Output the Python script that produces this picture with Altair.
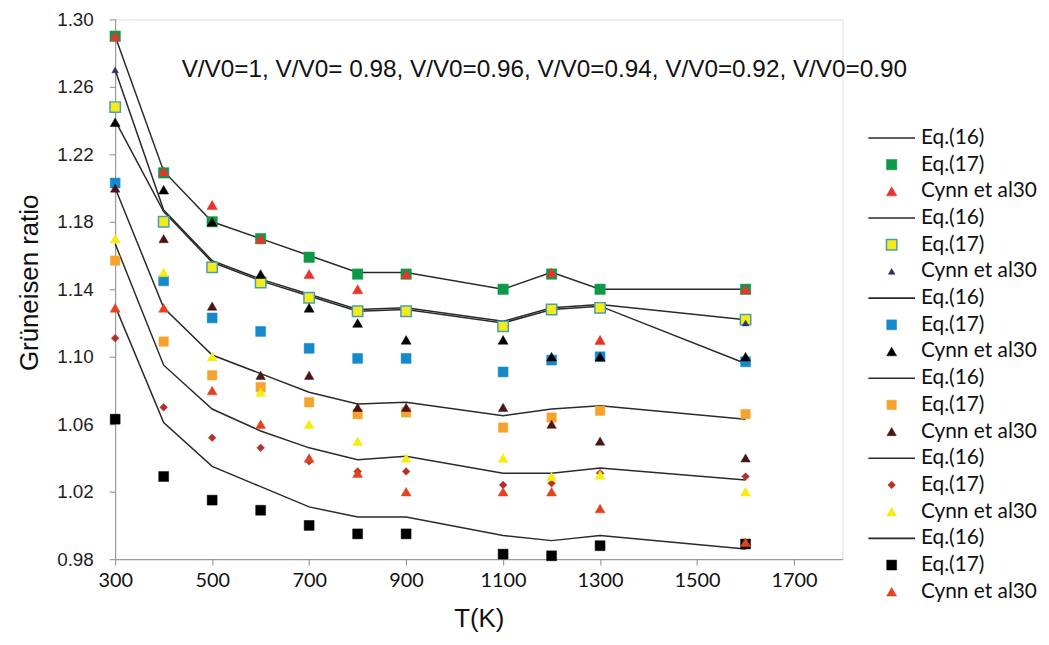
import altair as alt
import pandas as pd

# ---------------- data ----------------
T = [300, 400, 500, 600, 700, 800, 900, 1100, 1200, 1300, 1600]

# Eq.(16) curves, V/V0 = 1, 0.98, 0.96, 0.94, 0.92, 0.90
EQ16_1 = [1.290, 1.210, 1.180, 1.170, 1.160, 1.150, 1.150, 1.140, 1.150, 1.140, 1.140]
EQ16_2 = [1.270, 1.187, 1.157, 1.146, 1.137, 1.128, 1.129, 1.121, 1.129, 1.131, 1.122]
EQ16_3 = [1.240, 1.186, 1.156, 1.145, 1.136, 1.127, 1.128, 1.120, 1.128, 1.130, 1.096]
EQ16_4 = [1.200, 1.129, 1.101, 1.090, 1.079, 1.072, 1.073, 1.065, 1.069, 1.071, 1.063]
EQ16_5 = [1.167, 1.095, 1.069, 1.056, 1.046, 1.039, 1.041, 1.031, 1.031, 1.034, 1.027]
EQ16_6 = [1.130, 1.061, 1.035, 1.023, 1.011, 1.005, 1.005, 0.994, 0.991, 0.994, 0.986]

# Eq.(17) points
EQ17_1 = [1.290, 1.209, 1.180, 1.170, 1.159, 1.149, 1.149, 1.140, 1.149, 1.140, 1.140]
EQ17_2 = [1.248, 1.180, 1.153, 1.144, 1.135, 1.127, 1.127, 1.118, 1.128, 1.129, 1.122]
EQ17_3 = [1.203, 1.145, 1.123, 1.115, 1.105, 1.099, 1.099, 1.091, 1.098, 1.100, 1.097]
EQ17_4 = [1.157, 1.109, 1.089, 1.082, 1.073, 1.066, 1.067, 1.058, 1.064, 1.068, 1.066]
EQ17_5 = [1.111, 1.070, 1.052, 1.046, 1.038, 1.032, 1.032, 1.024, 1.025, 1.031, 1.029]
EQ17_6 = [1.063, 1.029, 1.015, 1.009, 1.000, 0.995, 0.995, 0.983, 0.982, 0.988, 0.989]

# Cynn et al30 points
CYNN_1 = [1.290, 1.210, 1.190, 1.170, 1.149, 1.140, 1.149, None, 1.150, 1.110, 1.140]
CYNN_2 = [1.270, None, None, None, None, None, None, None, None, None, 1.120]
CYNN_3 = [1.239, 1.199, 1.180, 1.149, 1.129, 1.120, 1.110, 1.110, 1.100, 1.100, 1.100]
CYNN_4 = [1.200, 1.170, 1.130, 1.089, 1.089, 1.070, 1.070, 1.070, 1.060, 1.050, 1.040]
CYNN_5 = [1.170, 1.150, 1.100, 1.079, 1.060, 1.050, 1.040, 1.040, 1.029, 1.030, 1.020]
CYNN_6 = [1.129, 1.129, 1.080, 1.060, 1.040, 1.031, 1.020, 1.020, 1.020, 1.010, 0.990]

X_TICKS = [300, 500, 700, 900, 1100, 1300, 1500, 1700]
Y_TICKS = [0.98, 1.02, 1.06, 1.10, 1.14, 1.18, 1.22, 1.26, 1.30]
ANNOTATION = "V/V0=1, V/V0= 0.98, V/V0=0.96, V/V0=0.94, V/V0=0.92, V/V0=0.90"

EQ16 = [EQ16_1, EQ16_2, EQ16_3, EQ16_4, EQ16_5, EQ16_6]
EQ17 = [EQ17_1, EQ17_2, EQ17_3, EQ17_4, EQ17_5, EQ17_6]
CYNN = [CYNN_1, CYNN_2, CYNN_3, CYNN_4, CYNN_5, CYNN_6]

# ---------------- styles ----------------
EQ17_FILL = ["#0B9A48", "#F4EC1A", "#1489CB", "#F7A22D", "#B2312B", "#000000"]
EQ17_STROKE = ["#0B9A48", "#4C9DB2", "#1489CB", "#F7A22D", "#B2312B", "#000000"]
EQ17_SHAPE = ["square", "square", "square", "square", "diamond", "square"]
EQ17_SIZE = [110, 110, 100, 90, 60, 100]
EQ17_SW = [0.5, 1.5, 0.5, 0.5, 0.5, 0.5]
CYNN_COLOR = ["#E8342C", "#2C2F6C", "#000000", "#4A1515", "#F6EC12", "#E2431F"]
CYNN_SIZE = [110, 45, 100, 90, 100, 100]
LINE_PATH = "M-4.7,0H4.7"

keys, fills, strokes, shapes, sizes, sws = [], [], [], [], [], []
for g in range(6):
    keys += [f"L{g+1}", f"E{g+1}", f"C{g+1}"]
    fills += ["transparent", EQ17_FILL[g], CYNN_COLOR[g]]
    strokes += ["#2a2a2a", EQ17_STROKE[g], CYNN_COLOR[g]]
    shapes += [LINE_PATH, EQ17_SHAPE[g], "triangle-up"]
    sizes += [100, EQ17_SIZE[g], CYNN_SIZE[g]]
    sws += [1.6, EQ17_SW[g], 0.5]

line_rows = []
for g in range(6):
    for t, v in zip(T, EQ16[g]):
        line_rows.append({"T": t, "val": v, "grp": f"L{g+1}"})
line_df = pd.DataFrame(line_rows)

pt_rows = []
for g in range(6):
    for t, v in zip(T, EQ17[g]):
        pt_rows.append({"T": t, "val": v, "key": f"E{g+1}"})
    for t, v in zip(T, CYNN[g]):
        if v is not None:
            pt_rows.append({"T": t, "val": v, "key": f"C{g+1}"})
pt_df = pd.DataFrame(pt_rows)

xscale = alt.Scale(domain=[300, 1800], nice=False, zero=False)
yscale = alt.Scale(domain=[0.98, 1.30], nice=False, zero=False)

x_axis = alt.Axis(
    values=X_TICKS, format="d", title="T(K)", grid=False, domainColor="#8c8c8c", tickColor="#8c8c8c",
    tickSize=6, labelFont="Lato", labelFontSize=20, labelColor="#111", labelPadding=6,
    labelFlush=False, labelOverlap=False,
    titleFont="Liberation Sans", titleFontSize=26, titleFontWeight="normal", titleColor="#111",
    titleY=60, titleBaseline="middle",
)
y_axis = alt.Axis(
    values=Y_TICKS, format=".2f", title="Grüneisen ratio", grid=False,
    domainColor="#8c8c8c", tickColor="#8c8c8c", tickSize=6,
    labelFont="Liberation Sans", labelFontSize=19, labelColor="#222", labelPadding=16,
    labelFlush=False, labelOverlap=False,
    titleFont="Liberation Sans", titleFontSize=26, titleFontWeight="normal", titleColor="#111",
    titleX=-86, titleY=265, titleAngle=-90, titleAlign="center", titleBaseline="middle",
)

lines = alt.Chart(line_df).mark_line(color="#2a2a2a", strokeWidth=1.5).encode(
    x=alt.X("T:Q", scale=xscale, axis=x_axis),
    y=alt.Y("val:Q", scale=yscale, axis=y_axis),
    detail="grp:N",
)

legend = alt.Legend(
    orient="none", legendX=772, legendY=109, padding=0, rowPadding=4.9,
    labelFont="Lato", labelFontSize=21, labelColor="#111", labelOffset=19,
    symbolOffset=0, symbolLimit=0, labelLimit=0,
    labelExpr="substring(datum.label,0,1)=='L' ? 'Eq.(16)' : (substring(datum.label,0,1)=='E' ? 'Eq.(17)' : 'Cynn et al30')",
)

points = alt.Chart(pt_df).mark_point(opacity=1).encode(
    x=alt.X("T:Q", scale=xscale),
    y=alt.Y("val:Q", scale=yscale),
    fill=alt.Fill("key:N", scale=alt.Scale(domain=keys, range=fills), legend=legend, title=None),
    stroke=alt.Stroke("key:N", scale=alt.Scale(domain=keys, range=strokes), legend=legend, title=None),
    shape=alt.Shape("key:N", scale=alt.Scale(domain=keys, range=shapes), legend=legend, title=None),
    size=alt.Size("key:N", scale=alt.Scale(type="ordinal", domain=keys, range=sizes), legend=legend, title=None),
    strokeWidth=alt.StrokeWidth("key:N", scale=alt.Scale(type="ordinal", domain=keys, range=sws), legend=legend, title=None),
    order=alt.Order("idx:Q"),
).transform_window(idx="row_number()")

note = alt.Chart(pd.DataFrame({"t": [ANNOTATION]})).mark_text(
    align="left", baseline="middle", font="Liberation Sans", fontSize=24.5, color="#111"
).encode(x=alt.value(67), y=alt.value(51), text="t:N")

chart = alt.layer(lines, points, note).properties(
    width=733, height=544,
    autosize=alt.AutoSizeParams(type="none"),
    padding={"left": 108, "top": 9, "right": 200, "bottom": 80},
).configure_view(stroke=None).configure(background="white")

chart.save("out.html", embed_options={"renderer": "svg", "actions": False})
